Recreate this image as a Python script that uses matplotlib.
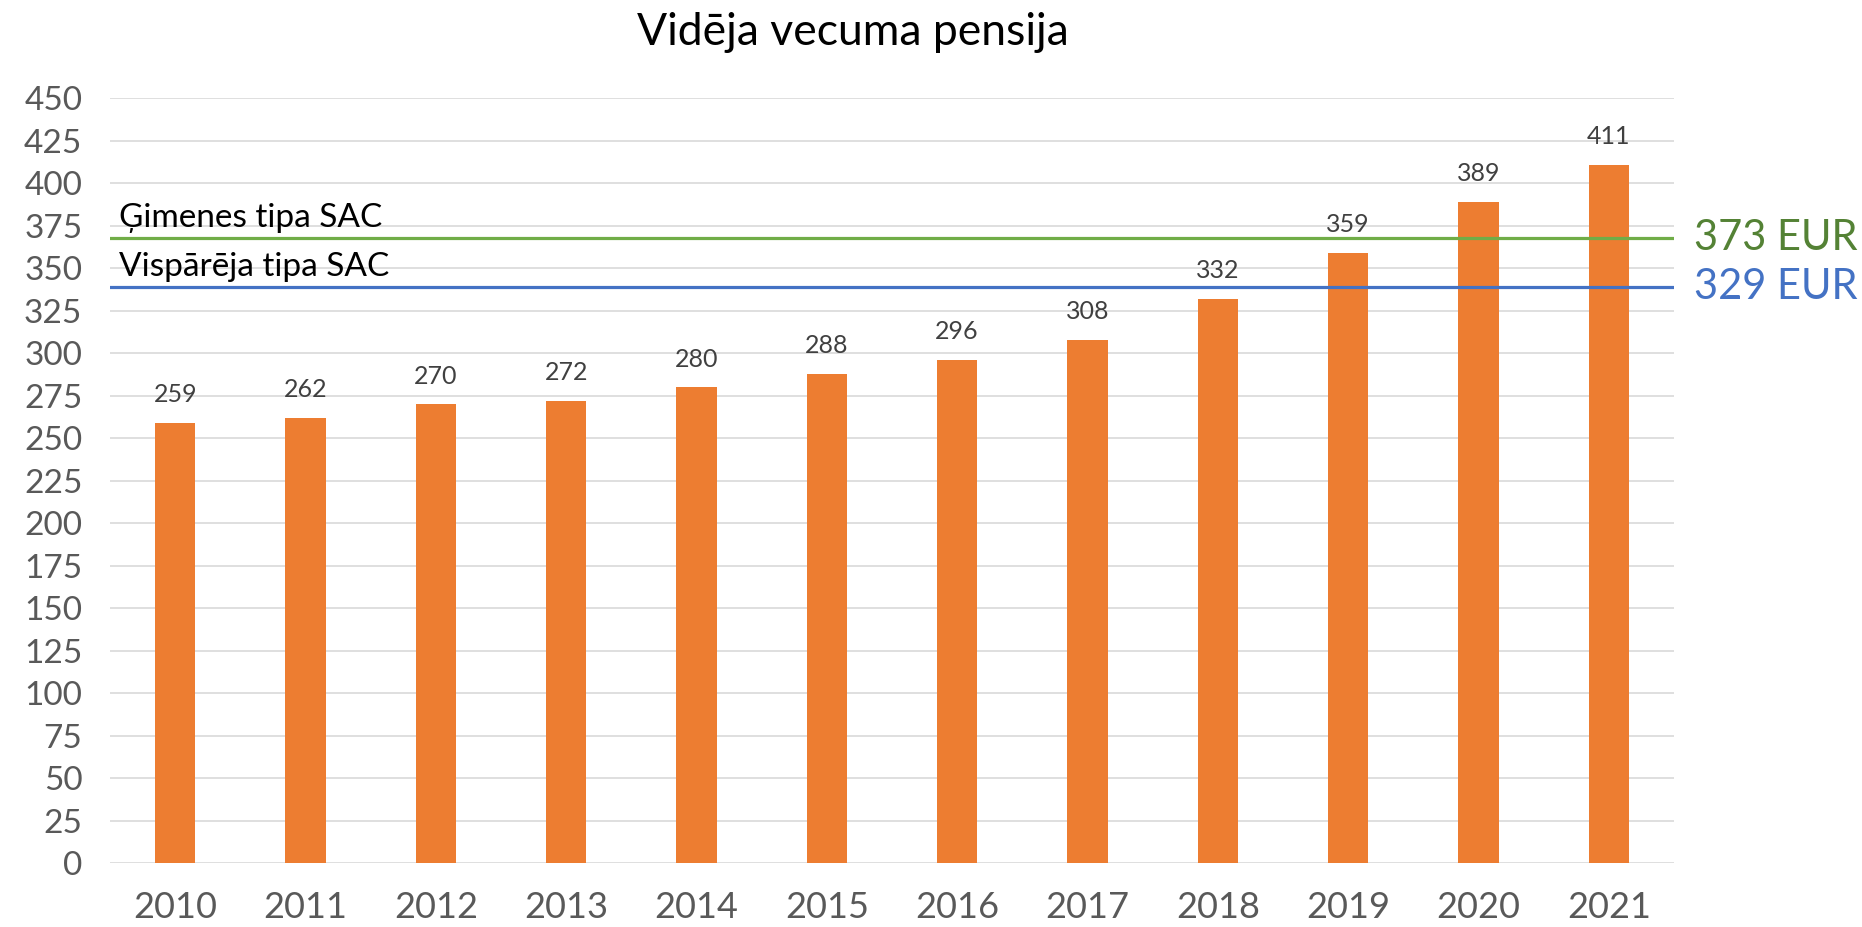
import matplotlib.pyplot as plt
import numpy as np

plt.rcParams['font.family'] = ['Lato', 'DejaVu Sans']

years = ['2010', '2011', '2012', '2013', '2014', '2015',
         '2016', '2017', '2018', '2019', '2020', '2021']
pension = [259, 262, 270, 272, 280, 288, 296, 308, 332, 359, 389, 411]

# reference lines (drawn position) and their labels
line_levels = [368, 339]
line_names = ['Ģimenes tipa SAC', 'Vispārēja tipa SAC']
line_values = ['373 EUR', '329 EUR']
line_colors = ['#70AD47', '#4472C4']
label_colors = ['#548235', '#4472C4']

fig = plt.figure(figsize=(18.62, 9.27), dpi=100)
ax = fig.add_axes([0.0591, 0.069, 0.8399, 0.825])

x = np.arange(len(years))
ax.bar(x, pension, width=0.31, color='#ED7D31', zorder=3)
for xi, v in zip(x, pension):
    ax.annotate(str(v), (xi, v), xytext=(0, 12), textcoords='offset points',
                ha='center', va='bottom', fontsize=18, color='#404040')

for lvl, name, val, c, lc in zip(line_levels, line_names, line_values,
                                 line_colors, label_colors):
    ax.axhline(lvl, color=c, lw=2.3, zorder=4)
    ax.text(0.006, lvl + 3, name, transform=ax.get_yaxis_transform(),
            fontsize=24, color='black', va='bottom', ha='left')
    ax.text(1.013, lvl, val, transform=ax.get_yaxis_transform(),
            fontsize=30, color=lc, va='center', ha='left', clip_on=False)

ax.set_xlim(-0.5, len(years) - 0.5)
ax.set_ylim(0, 450)
ax.set_yticks(np.arange(0, 451, 25))
ax.set_xticks(x)
ax.set_xticklabels(years)
ax.yaxis.grid(True, color='#D9D9D9', lw=1.2, zorder=0)
ax.set_axisbelow(True)
for s in ax.spines.values():
    s.set_visible(False)
ax.tick_params(axis='both', length=0, colors='#595959', labelsize=24)
ax.tick_params(axis='x', labelsize=26, pad=20)
ax.tick_params(axis='y', pad=20)

fig.text(0.458, 0.965, 'Vidēja vecuma pensija', ha='center', va='center',
         fontsize=32, color='black')

fig.savefig('out.png', dpi=100)
